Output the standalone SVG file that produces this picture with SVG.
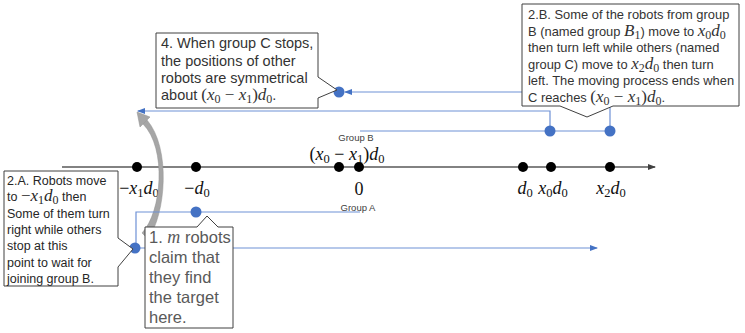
<svg xmlns="http://www.w3.org/2000/svg" width="745" height="333" viewBox="0 0 745 333">
  <defs>
    <style>
      .axis { stroke: #595959; stroke-width: 1.4; fill: none; }
      .pt { fill: #000; }
      .conn { stroke: #6e91d6; stroke-width: 1.2; fill: none; }
      .bdot { fill: #4472c4; }
      .box { fill: #fff; stroke: #404040; stroke-width: 1; }
      .mth { font-family: "Liberation Serif", "Times New Roman", serif; font-size: 18px; fill: #111; }
      .v { font-style: italic; }
      .s { font-size: 12.5px; font-style: normal; }
      .mf { font-family: "Liberation Serif", "Times New Roman", serif; font-size: 17px; }
      .ms { font-family: "Liberation Serif", "Times New Roman", serif; font-size: 12px; font-style: normal; }
      .lbl { font-family: "Liberation Sans", Arial, sans-serif; font-size: 9.5px; fill: #404040; }
      .t4 { font-family: "Liberation Sans", Arial, sans-serif; font-size: 14.5px; fill: #333; }
      .t2b { font-family: "Liberation Sans", Arial, sans-serif; font-size: 12.9px; fill: #333; }
      .t2a { font-family: "Liberation Sans", Arial, sans-serif; font-size: 12.5px; fill: #262626; }
      .t1 { font-family: "Liberation Sans", Arial, sans-serif; font-size: 16.5px; fill: #595959; }
      .t1 .mf { font-size: 18px; }
    </style>
    <marker id="blueArrow" markerUnits="userSpaceOnUse" markerWidth="8" markerHeight="6" refX="7" refY="3" orient="auto">
      <path d="M0,0 L8,3 L0,6 Z" fill="#4472c4"/>
    </marker>
    <marker id="axisArrow" markerUnits="userSpaceOnUse" markerWidth="8" markerHeight="6" refX="7" refY="3" orient="auto">
      <path d="M0,0 L8,3 L0,6 Z" fill="#404040"/>
    </marker>
  </defs>

  <!-- number line -->
  <g id="axis">
    <path class="axis" d="M62,167 H655" marker-end="url(#axisArrow)"/>
    <circle class="pt" cx="137" cy="167" r="5"/>
    <circle class="pt" cx="196" cy="167" r="5"/>
    <circle class="pt" cx="339" cy="167" r="5"/>
    <circle class="pt" cx="359" cy="167" r="5"/>
    <circle class="pt" cx="523" cy="167" r="5"/>
    <circle class="pt" cx="551" cy="167" r="5"/>
    <circle class="pt" cx="610" cy="167" r="5"/>
  </g>

  <!-- point labels -->
  <g id="axis-labels" class="mth" text-anchor="middle">
    <text x="139" y="194">−<tspan class="v">x</tspan><tspan class="s" dy="3">1</tspan><tspan class="v" dy="-3">d</tspan><tspan class="s" dy="3">0</tspan></text>
    <text x="197" y="194">−<tspan class="v">d</tspan><tspan class="s" dy="3">0</tspan></text>
    <text x="359" y="195">0</text>
    <text x="525" y="194"><tspan class="v">d</tspan><tspan class="s" dy="3">0</tspan></text>
    <text x="553" y="194"><tspan class="v">x</tspan><tspan class="s" dy="3">0</tspan><tspan class="v" dy="-3">d</tspan><tspan class="s" dy="3">0</tspan></text>
    <text x="611" y="194"><tspan class="v">x</tspan><tspan class="s" dy="3">2</tspan><tspan class="v" dy="-3">d</tspan><tspan class="s" dy="3">0</tspan></text>
    <text x="347" y="159.5">(<tspan class="v">x</tspan><tspan class="s" dy="3">0</tspan><tspan dy="-3"> − </tspan><tspan class="v">x</tspan><tspan class="s" dy="3">1</tspan><tspan dy="-3">)</tspan><tspan class="v">d</tspan><tspan class="s" dy="3">0</tspan></text>
  </g>
  <g id="group-labels" class="lbl" text-anchor="middle">
    <text x="356" y="140.5">Group B</text>
    <text x="358" y="211">Group A</text>
  </g>

  <!-- curved grey arrow: the found target is reported back -->
  <g id="report-arrow" fill="#a6a6a6" stroke="#939393" stroke-width="0.5">
    <path d="M148,239 C166,214 171,148 147,120 L143,124 C167,148 162,212 142,233 Z"/>
    <path d="M137,112 L150,117 L140,127 Z"/>
  </g>

  <!-- movement connectors -->
  <g id="connectors" class="conn">
    <path d="M360,212 H136 V248 H597" marker-end="url(#blueArrow)"/>
    <path d="M360,131 H610"/>
    <path d="M550,131 V111 H138" marker-end="url(#blueArrow)"/>
    <path d="M610,131 V92 H345" marker-end="url(#blueArrow)"/>
  </g>

  <!-- robot positions -->
  <g id="robots" class="bdot">
    <circle cx="196" cy="212" r="5.5"/>
    <circle cx="135" cy="248" r="5.5"/>
    <circle cx="550" cy="131" r="5.5"/>
    <circle cx="610" cy="131" r="5.5"/>
    <circle cx="339" cy="92" r="5.5"/>
  </g>

  <!-- callout 1 -->
  <g id="note-1" class="t1">
    <path class="box" d="M145,227 H197 L207,216 L218,227 H233 V328 H145 Z"/>
    <text x="149" y="243">1. <tspan class="mf v">m</tspan> robots</text>
    <text x="149" y="263">claim that</text>
    <text x="149" y="283">they find</text>
    <text x="149" y="303">the target</text>
    <text x="149" y="323">here.</text>
  </g>

  <!-- callout 2.A -->
  <g id="note-2a" class="t2a">
    <path class="box" d="M4,171 H118 V238 L133,249 L118,267 V286 H4 Z"/>
    <text x="7" y="185">2.A. Robots move</text>
    <text x="7" y="201.3">to <tspan class="mf">−</tspan><tspan class="mf v">x</tspan><tspan class="ms" dy="3">1</tspan><tspan class="mf v" dy="-3">d</tspan><tspan class="ms" dy="3">0</tspan><tspan dy="-3"> then</tspan></text>
    <text x="7" y="217.6">Some of them turn</text>
    <text x="7" y="233.9">right while others</text>
    <text x="7" y="250.2">stop at this</text>
    <text x="7" y="266.5">point to wait for</text>
    <text x="7" y="282.8">joining group B.</text>
  </g>

  <!-- callout 2.B -->
  <g id="note-2b" class="t2b">
    <path class="box" d="M522,4 H739 V106 H613 L587,117 L560,106 H522 Z"/>
    <text x="528" y="19.3">2.B. Some of the robots from group</text>
    <text x="528" y="35.8">B (named group <tspan class="mf v">B</tspan><tspan class="ms" dy="3">1</tspan><tspan dy="-3">) move to </tspan><tspan class="mf v">x</tspan><tspan class="ms" dy="3">0</tspan><tspan class="mf v" dy="-3">d</tspan><tspan class="ms" dy="3">0</tspan></text>
    <text x="528" y="52.3">then turn left while others (named</text>
    <text x="528" y="68.8">group C) move to <tspan class="mf v">x</tspan><tspan class="ms" dy="3">2</tspan><tspan class="mf v" dy="-3">d</tspan><tspan class="ms" dy="3">0</tspan><tspan dy="-3"> then turn</tspan></text>
    <text x="528" y="85.3">left. The moving process ends when</text>
    <text x="528" y="101.8">C reaches <tspan class="mf">(</tspan><tspan class="mf v">x</tspan><tspan class="ms" dy="3">0</tspan><tspan class="mf" dy="-3"> − </tspan><tspan class="mf v">x</tspan><tspan class="ms" dy="3">1</tspan><tspan class="mf" dy="-3">)</tspan><tspan class="mf v">d</tspan><tspan class="ms" dy="3">0</tspan><tspan dy="-3">.</tspan></text>
  </g>

  <!-- callout 4 -->
  <g id="note-4" class="t4">
    <path class="box" d="M156,33 H318 V77 L337,90 L318,98 V108 H156 Z"/>
    <text x="161" y="48.3">4. When group C stops,</text>
    <text x="161" y="65.5">the positions of other</text>
    <text x="161" y="82.8">robots are symmetrical</text>
    <text x="161" y="100">about <tspan class="mf">(</tspan><tspan class="mf v">x</tspan><tspan class="ms" dy="3">0</tspan><tspan class="mf" dy="-3"> − </tspan><tspan class="mf v">x</tspan><tspan class="ms" dy="3">1</tspan><tspan class="mf" dy="-3">)</tspan><tspan class="mf v">d</tspan><tspan class="ms" dy="3">0</tspan><tspan dy="-3">.</tspan></text>
  </g>
</svg>
